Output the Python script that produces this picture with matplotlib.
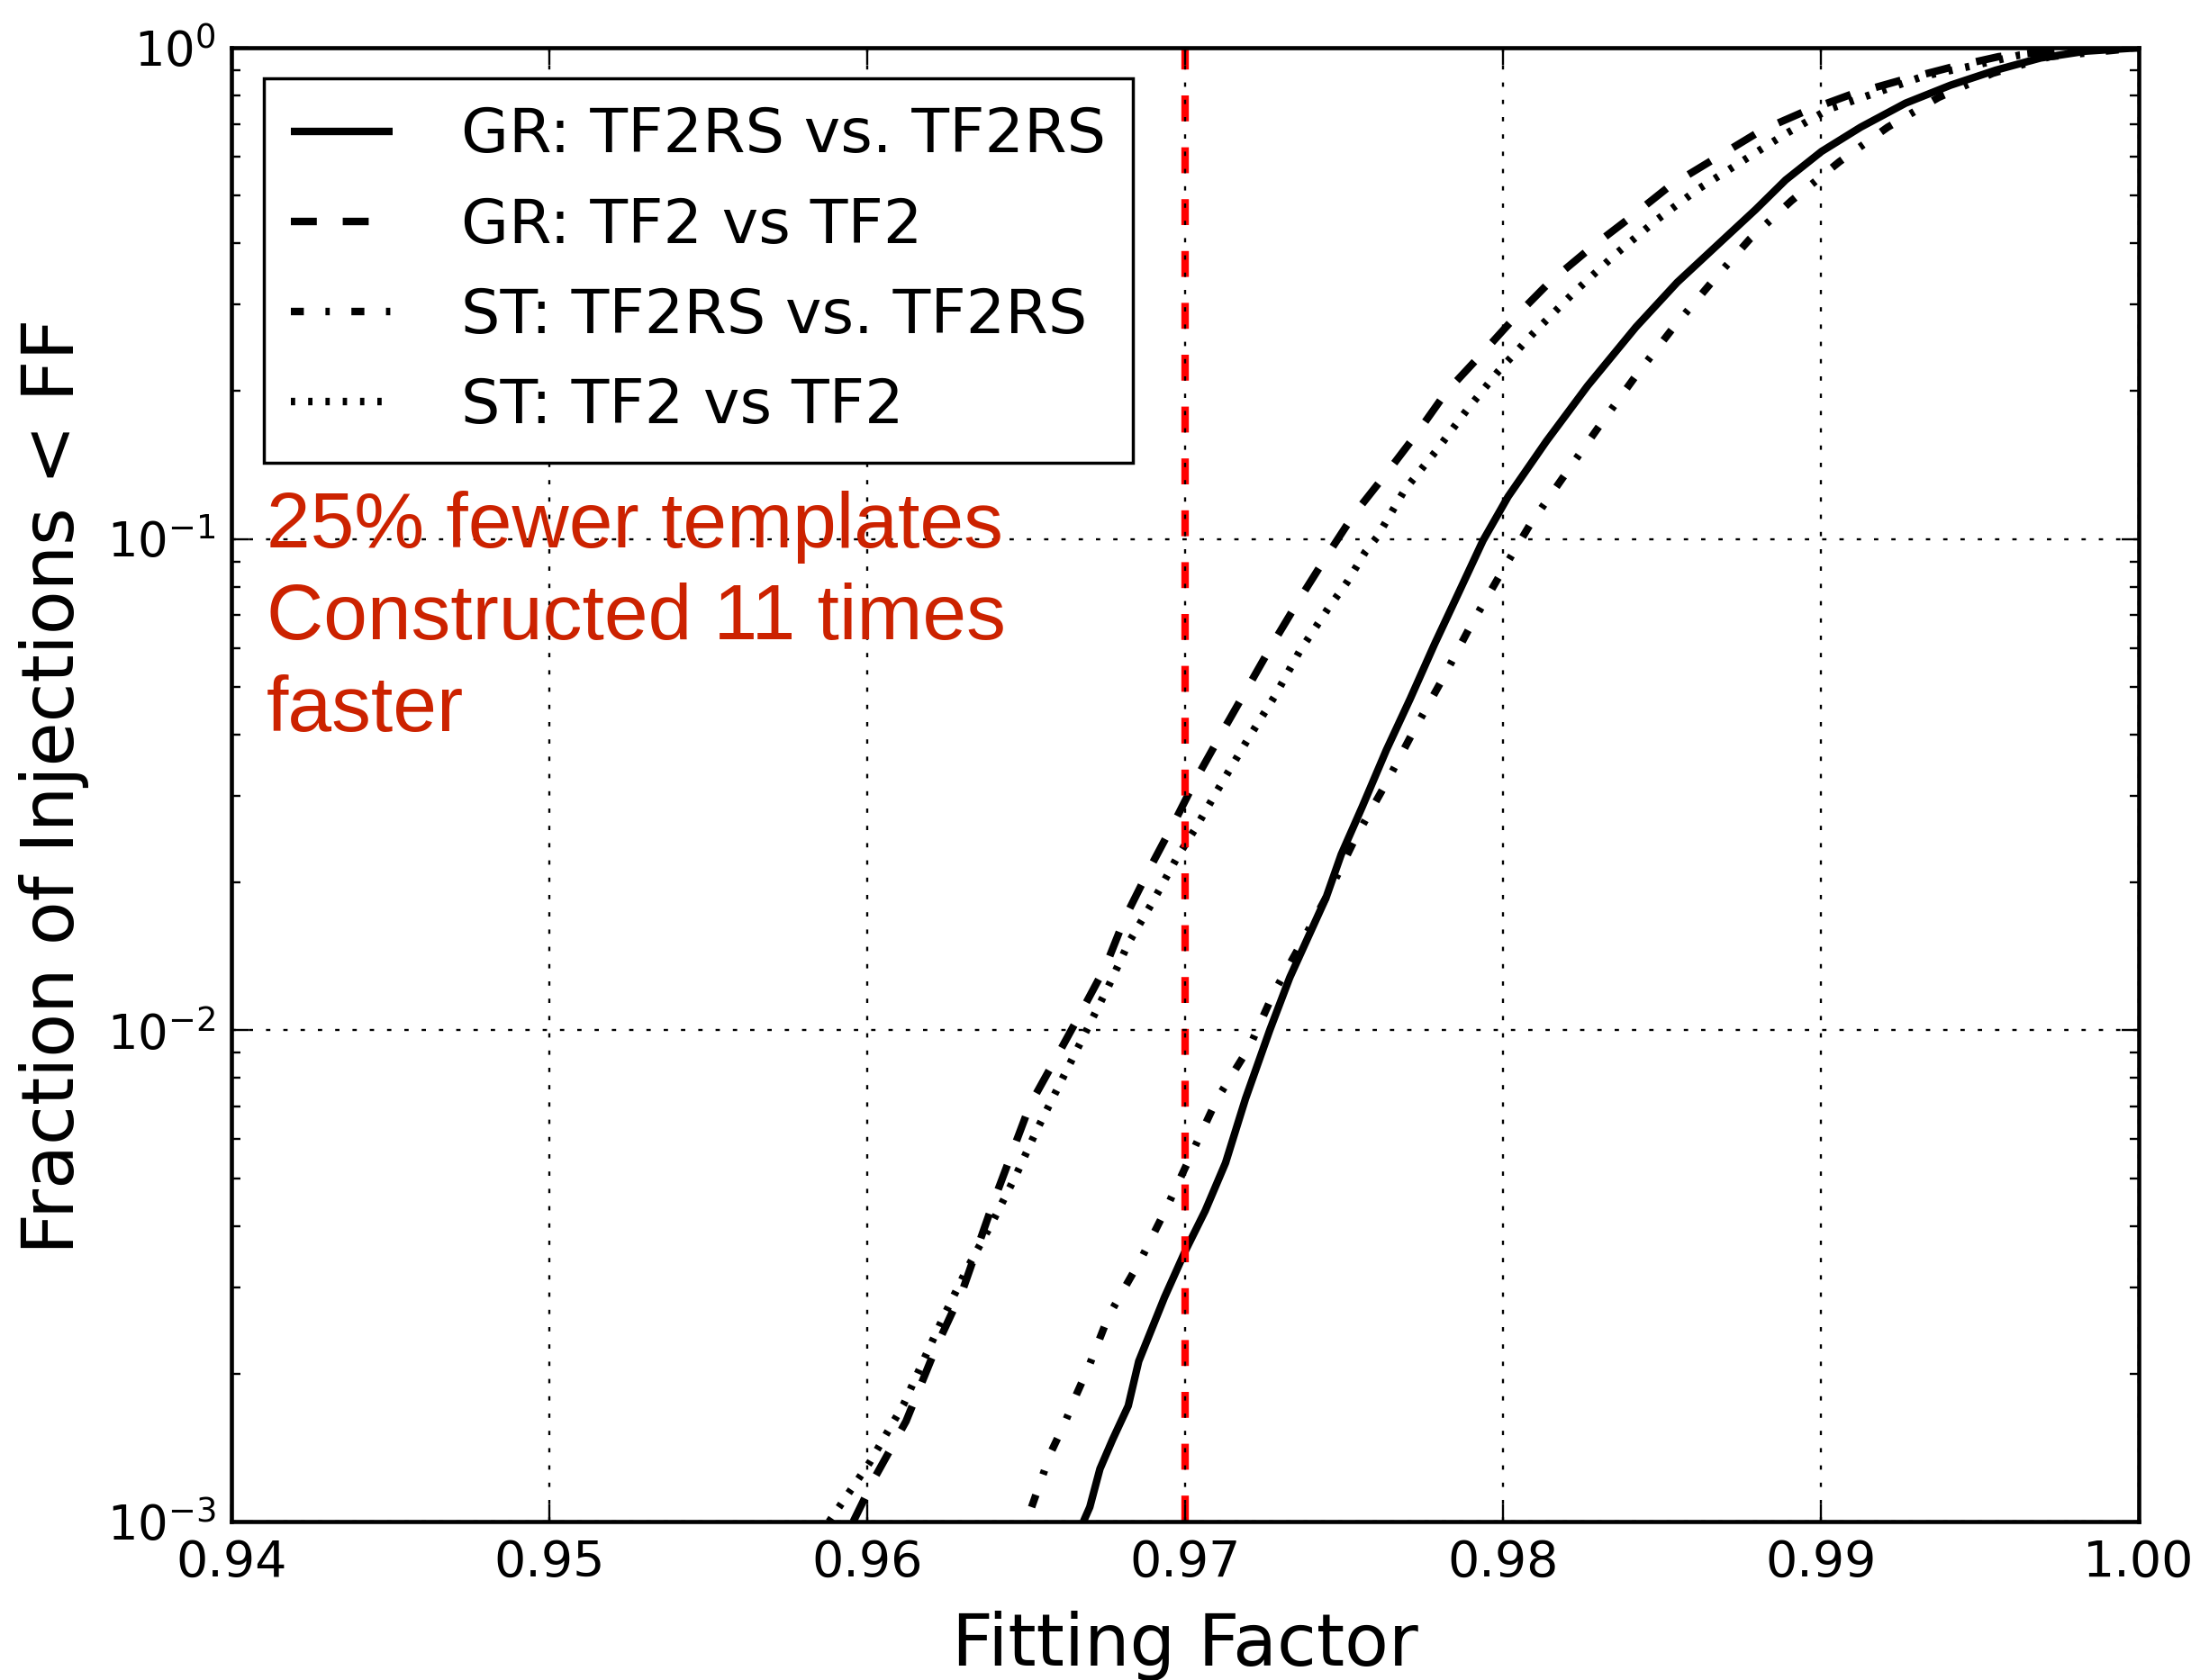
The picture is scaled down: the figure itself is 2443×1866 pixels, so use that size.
import matplotlib
matplotlib.use("Agg")
import matplotlib.pyplot as plt

# ---------------- data ----------------
ff_gr_tf2rs = [0.9668, 0.9670, 0.96732, 0.96772, 0.96821, 0.96854, 0.96935, 0.9700, 0.97063,
               0.97127, 0.97190, 0.97266, 0.97329, 0.97443, 0.97491, 0.97557, 0.97633, 0.97708,
               0.97784, 0.97859, 0.97937, 0.98016, 0.98136, 0.98266, 0.98418, 0.98548, 0.98700,
               0.98794, 0.98889, 0.99002, 0.99125, 0.99266, 0.99408, 0.99550, 0.99691, 0.99833, 1.0]
frac_gr_tf2rs = [0.001, 0.00107, 0.00128, 0.00147, 0.00172, 0.00212, 0.00286, 0.00355, 0.00429,
                 0.00537, 0.00726, 0.0100, 0.0128, 0.0186, 0.0228, 0.0285, 0.0372, 0.0473,
                 0.0610, 0.0774, 0.0993, 0.122, 0.158, 0.205, 0.270, 0.333, 0.411,
                 0.468, 0.538, 0.615, 0.689, 0.771, 0.839, 0.900, 0.953, 0.984, 1.0]

ff_gr_tf2 = [0.95956, 0.96024, 0.96122, 0.96220, 0.96301, 0.96398, 0.96512, 0.96600, 0.96670,
             0.96750, 0.96810, 0.96886, 0.96972, 0.97038, 0.97118, 0.97198, 0.97274, 0.97359,
             0.97440, 0.97530, 0.97637, 0.97729, 0.97821, 0.97930, 0.98038, 0.98146, 0.98277,
             0.98396, 0.98526, 0.98813, 0.98945, 0.99096, 0.99247, 0.99408, 0.99559, 0.99750, 1.0]
frac_gr_tf2 = [0.001, 0.00123, 0.00160, 0.00229, 0.00297, 0.00449, 0.00705, 0.00893, 0.0108,
               0.0135, 0.0169, 0.0212, 0.0270, 0.0328, 0.0406, 0.0500, 0.0610, 0.0753,
               0.0912, 0.112, 0.137, 0.164, 0.199, 0.237, 0.283, 0.333, 0.392,
               0.449, 0.524, 0.679, 0.740, 0.804, 0.857, 0.912, 0.959, 0.989, 1.0]

ff_st_tf2rs = [0.96517, 0.96577, 0.96620, 0.96659, 0.96696, 0.96759, 0.96861, 0.96943, 0.97025,
               0.97101, 0.97203, 0.97278, 0.97367, 0.97456, 0.97538, 0.97633, 0.97718, 0.97812,
               0.97897, 0.97994, 0.98085, 0.98201, 0.98309, 0.98418, 0.98537, 0.98656, 0.98775,
               0.98907, 0.99058, 0.99210, 0.99370, 0.99540, 0.99720, 1.0]
frac_st_tf2rs = [0.00107, 0.00138, 0.00158, 0.00182, 0.00206, 0.00262, 0.00342, 0.00437, 0.00569,
                 0.00726, 0.00927, 0.0119, 0.0151, 0.0193, 0.0248, 0.0319, 0.0406, 0.0522,
                 0.0664, 0.0853, 0.107, 0.137, 0.172, 0.215, 0.270, 0.333, 0.407,
                 0.488, 0.586, 0.689, 0.792, 0.887, 0.959, 1.0]

ff_st_tf2 = [0.95880, 0.96008, 0.96114, 0.96177, 0.96241, 0.96316, 0.96392, 0.96468, 0.96532,
             0.96608, 0.96684, 0.96759, 0.96823, 0.96899, 0.96975, 0.97033, 0.97113, 0.97198,
             0.97283, 0.97359, 0.97449, 0.97510, 0.97567, 0.97604, 0.97691, 0.97789, 0.97886,
             0.97984, 0.98092, 0.98222, 0.98352, 0.98483, 0.98613, 0.98884, 0.99025, 0.99172,
             0.99323, 0.99474, 0.99625, 0.99800, 1.0]
frac_st_tf2 = [0.00100, 0.00132, 0.00173, 0.00213, 0.00262, 0.00329, 0.00405, 0.00507, 0.00624,
               0.00783, 0.00982, 0.0123, 0.0151, 0.0183, 0.0225, 0.0258, 0.0317, 0.0392,
               0.0480, 0.0589, 0.0721, 0.0818, 0.0942, 0.101, 0.126, 0.151, 0.183,
               0.219, 0.261, 0.317, 0.379, 0.446, 0.515, 0.665, 0.750, 0.809,
               0.875, 0.918, 0.966, 0.991, 1.0]

series_labels = ["GR: TF2RS vs. TF2RS", "GR: TF2 vs TF2",
                 "ST: TF2RS vs. TF2RS", "ST: TF2 vs TF2"]
x_ticks = [0.94, 0.95, 0.96, 0.97, 0.98, 0.99, 1.00]
threshold_ff = 0.97
annotation = "25% fewer templates\nConstructed 11 times\nfaster"
xlabel = "Fitting Factor"
ylabel = "Fraction of Injections < FF"

# ---------------- style ----------------
plt.rcParams['lines.scale_dashes'] = False
plt.rcParams['axes.unicode_minus'] = False
plt.rcParams['font.family'] = ['DejaVu Sans']

U = 3.456  # one "original" point in points at this dpi
LW = 6.0
styles = ['-', (0, (6 * U, 6 * U)), (0, (3 * U, 5 * U, 1 * U, 5 * U)), (0, (1 * U, 3 * U))]

fig = plt.figure(figsize=(24.43, 18.66), dpi=100)
ax = fig.add_axes([0.1052, 0.0943, 0.8670, 0.8773])
ax.set_axisbelow(False)

data = [(ff_gr_tf2rs, frac_gr_tf2rs), (ff_gr_tf2, frac_gr_tf2),
        (ff_st_tf2rs, frac_st_tf2rs), (ff_st_tf2, frac_st_tf2)]
for (xs, ys), ls, lab in zip(data, styles, series_labels):
    ax.plot(xs, ys, color='black', linestyle=ls, linewidth=LW, label=lab,
            solid_capstyle='butt', dash_capstyle='butt', zorder=2)

ax.axvline(threshold_ff, color='red', linestyle=(0, (6 * U, 6 * U)), linewidth=LW, zorder=2.2)

ax.set_yscale('log')
ax.set_xlim(0.94, 1.00)
ax.set_ylim(1e-3, 1.0)
ax.set_xticks(x_ticks)
ax.set_xticklabels(["%.2f" % v for v in x_ticks])

ax.grid(True, which='major', color='black', linestyle=(0, (1 * U, 3 * U)), linewidth=1.7)

ax.tick_params(which='both', direction='in', top=True, right=True, width=1.7)
ax.tick_params(which='major', length=13.8, pad=13.5)
ax.tick_params(axis='x', which='major', labelsize=40)
ax.tick_params(axis='y', which='major', labelsize=38, pad=12.5)
ax.tick_params(which='minor', length=6.9)
ax.tick_params(axis='x', which='minor', bottom=False, top=False)
for sp in ax.spines.values():
    sp.set_linewidth(3.3)

ax.set_xlabel(xlabel, fontsize=57.5)
ax.xaxis.set_label_coords(0.5, -0.0605)
ax.set_ylabel(ylabel, fontsize=57.5)
ax.yaxis.set_label_coords(-0.0745, 0.499)

ax.text(0.0184, 0.6995, annotation, transform=ax.transAxes, color='#CC2200',
        fontsize=63, family=['Liberation Sans', 'DejaVu Sans'], va='top', ha='left',
        linespacing=1.33, zorder=6)

leg = ax.legend(loc='upper left', bbox_to_anchor=(0.017, 0.979), borderaxespad=0,
                fontsize=49.2, handlelength=1.65, handletextpad=1.12, borderpad=0.44,
                labelspacing=0.50, fancybox=False, framealpha=1.0, edgecolor='black')
leg.get_frame().set_linewidth(2.5)
leg.set_zorder(10)

fig.savefig("out.png", dpi=100)
